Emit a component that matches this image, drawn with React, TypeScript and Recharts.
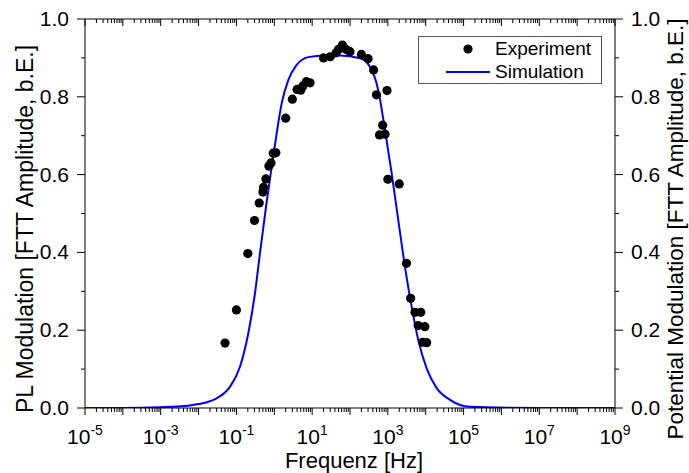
import React from "react";
import { ComposedChart, Line, Scatter, XAxis, YAxis } from "recharts";

// measured points (frequency in Hz, amplitude)
const expFreq = [
  0.05, 0.1, 0.2, 0.3, 0.4, 0.5, 0.52, 0.6, 0.72, 0.82, 0.94, 1.1, 2, 3, 4, 5,
  5.7, 7, 8.8, 20, 30, 43, 50, 63, 78, 100, 200, 300, 420, 500, 600, 730, 840,
  950, 1000, 2000, 3100, 4000, 5200, 6300, 7400, 8300, 9500, 10600,
];
const expAmp = [
  0.167, 0.252, 0.397, 0.482, 0.527, 0.555, 0.567, 0.589, 0.622, 0.63, 0.655,
  0.656, 0.745, 0.794, 0.819, 0.817, 0.828, 0.839, 0.836, 0.9, 0.903, 0.913,
  0.922, 0.933, 0.922, 0.916, 0.909, 0.898, 0.869, 0.805, 0.702, 0.727, 0.704,
  0.816, 0.588, 0.576, 0.372, 0.282, 0.246, 0.212, 0.246, 0.169, 0.209, 0.168,
];

// simulated curve
const simFreq = [
  1e-5, 1e-4, 1e-3, 0.0072, 0.03, 0.068, 0.124, 0.206, 0.309, 0.419, 0.604,
  0.853, 1.156, 1.567, 2.344, 3.908, 7.91, 21.8, 54.3, 184, 337, 558, 839, 1262,
  1884, 2831, 4256, 6353, 10590, 19500, 43750, 147600, 1.7e6, 1e7, 1e9,
];
const simAmp = [
  0, 0, 0.002, 0.008, 0.025, 0.055, 0.106, 0.192, 0.295, 0.398, 0.517, 0.62,
  0.706, 0.783, 0.843, 0.882, 0.902, 0.906, 0.906, 0.899, 0.877, 0.817, 0.715,
  0.603, 0.483, 0.363, 0.26, 0.175, 0.102, 0.051, 0.021, 0.003, 0.0005, 0, 0,
];

const xLabelExponents = [-5, -3, -1, 1, 3, 5, 7, 9];
const yTicks = [0, 0.1, 0.2, 0.3, 0.4, 0.5, 0.6, 0.7, 0.8, 0.9, 1.0];
const yLabels = ["0.0", "0.2", "0.4", "0.6", "0.8", "1.0"];

const expData = expFreq.map((f, i) => ({ f, v: expAmp[i] }));
const simData = simFreq.map((f, i) => ({ f, v: simAmp[i] }));

const xTicks: number[] = [];
for (let e = -5; e <= 9; e++) {
  for (let k = 1; k <= 9; k++) {
    if (e === 9 && k > 1) break;
    xTicks.push(parseFloat(`${k}e${e}`));
  }
}

const FONT = "'Liberation Sans', Arial, sans-serif";

const decadeOf = (v: number) => {
  const m = Math.log10(v);
  const exp = Math.round(m);
  return { exp, decade: Math.abs(m - exp) < 1e-6 };
};

const BottomTick = (props: any) => {
  const { x, y, payload } = props;
  const { exp, decade } = decadeOf(payload.value);
  return (
    <g>
      <line x1={x} x2={x} y1={y} y2={y + (decade ? 7 : 4)} stroke="#000" />
      {decade && xLabelExponents.includes(exp) && (
        <text x={x} y={y + 36} textAnchor="middle" fontSize={21} fill="#000" fontFamily={FONT}>
          10
          <tspan dy={-9} fontSize={14}>
            {`${exp}`}
          </tspan>
        </text>
      )}
    </g>
  );
};

const TopTick = (props: any) => {
  const { x, y, payload } = props;
  const { decade } = decadeOf(payload.value);
  return <line x1={x} x2={x} y1={y} y2={y + (decade ? 7 : 4)} stroke="#000" />;
};

const yText = (v: number) => v.toFixed(1);

const LeftTick = (props: any) => {
  const { x, y, payload } = props;
  const label = yText(payload.value);
  const major = yLabels.includes(label);
  return (
    <g>
      <line x1={x - (major ? 8 : 4)} x2={x} y1={y} y2={y} stroke="#000" />
      {major && (
        <text x={x - 16} y={y} dy={7} textAnchor="end" fontSize={21} fill="#000" fontFamily={FONT}>
          {label}
        </text>
      )}
    </g>
  );
};

const RightTick = (props: any) => {
  const { x, y, payload } = props;
  const label = yText(payload.value);
  const major = yLabels.includes(label);
  return (
    <g>
      <line x1={x} x2={x + (major ? 8 : 4)} y1={y} y2={y} stroke="#000" />
      {major && (
        <text x={x + 16} y={y} dy={7} textAnchor="start" fontSize={21} fill="#000" fontFamily={FONT}>
          {label}
        </text>
      )}
    </g>
  );
};

const Dot = (p: any) => <circle cx={p.cx} cy={p.cy} r={4.6} fill="#000" />;

export default function App() {
  return (
    <div style={{ position: "absolute", left: 0, top: 0, width: 689, height: 473, background: "#fff", fontFamily: FONT }}>
      <ComposedChart width={689} height={473} margin={{ top: 0, right: 0, bottom: 0, left: 0 }}>
        <XAxis
          dataKey="f"
          type="number"
          scale="log"
          domain={[1e-5, 1e9]}
          allowDataOverflow
          ticks={xTicks}
          interval={0}
          height={65}
          tickSize={0}
          tickMargin={0}
          tickLine={false}
          axisLine={{ stroke: "#000" }}
          tick={BottomTick}
        />
        <XAxis
          xAxisId="top"
          orientation="top"
          dataKey="f"
          type="number"
          scale="log"
          domain={[1e-5, 1e9]}
          allowDataOverflow
          ticks={xTicks}
          interval={0}
          height={19}
          tickSize={0}
          tickMargin={0}
          tickLine={false}
          axisLine={{ stroke: "#000" }}
          tick={TopTick}
        />
        <YAxis
          type="number"
          domain={[0, 1]}
          allowDataOverflow
          ticks={yTicks}
          interval={0}
          width={85}
          tickSize={0}
          tickMargin={0}
          tickLine={false}
          axisLine={{ stroke: "#000" }}
          tick={LeftTick}
        />
        <YAxis
          yAxisId="right"
          orientation="right"
          type="number"
          domain={[0, 1]}
          allowDataOverflow
          ticks={yTicks}
          interval={0}
          width={74}
          tickSize={0}
          tickMargin={0}
          tickLine={false}
          axisLine={{ stroke: "#000" }}
          tick={RightTick}
        />
        <Line
          data={simData}
          dataKey="v"
          type="monotone"
          stroke="#0000ff"
          strokeWidth={2}
          dot={false}
          activeDot={false}
          isAnimationActive={false}
        />
        <Scatter data={expData} dataKey="v" shape={Dot} isAnimationActive={false} />
      </ComposedChart>

      <svg
        width={689}
        height={473}
        style={{ position: "absolute", left: 0, top: 0, pointerEvents: "none" }}
        fontFamily={FONT}
      >
        <text x={354} y={468} textAnchor="middle" fontSize={22} fill="#000">
          Frequenz [Hz]
        </text>
        <text transform="translate(33,229) rotate(-90)" textAnchor="middle" fontSize={23} fill="#000">
          PL Modulation [FTT Amplitude, b.E.]
        </text>
        <text transform="translate(683,229) rotate(-90)" textAnchor="middle" fontSize={22.5} fill="#000">
          Potential Modulation [FTT Amplitude, b.E.]
        </text>
        <g>
          <rect x={418.5} y={36.5} width={183} height={47} fill="#fff" stroke="#555" />
          <circle cx={468} cy={49} r={4.6} fill="#000" />
          <text x={495} y={55} fontSize={19} fill="#000">
            Experiment
          </text>
          <line x1={446} x2={490} y1={72} y2={72} stroke="#0000ff" strokeWidth={2} />
          <text x={495} y={78} fontSize={19} fill="#000">
            Simulation
          </text>
        </g>
      </svg>
    </div>
  );
}
